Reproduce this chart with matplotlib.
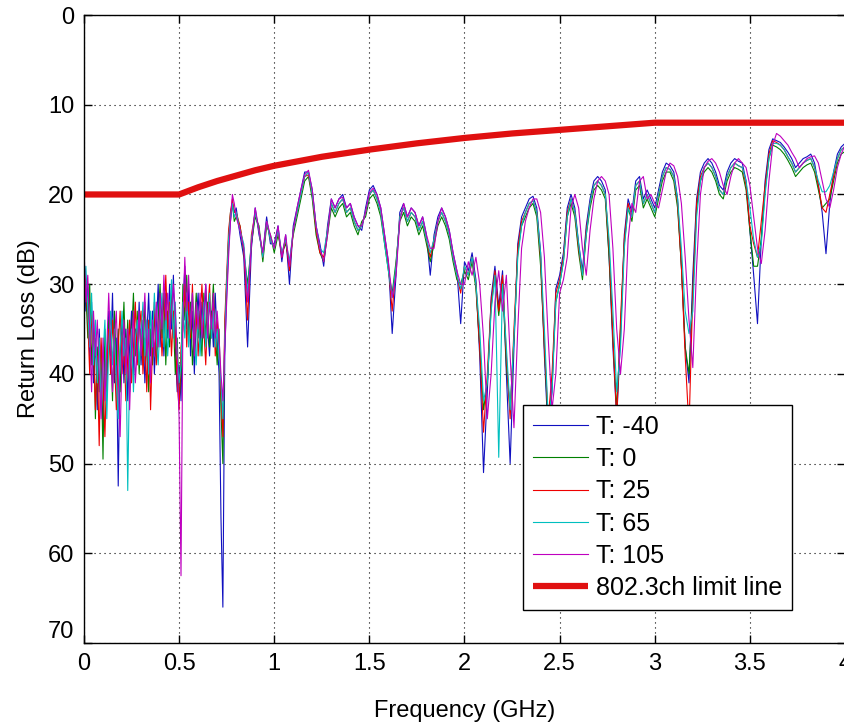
import numpy as np
import matplotlib
matplotlib.use('Agg')
import matplotlib.pyplot as plt

plt.rcParams['font.family'] = ['Liberation Sans', 'DejaVu Sans']

# ~~~~~~~~~~~~ Data ~~~~~~~~~~~~
# frequency grid (GHz): fine below 0.8 GHz, 0.02 GHz steps above
freq = np.concatenate([np.arange(0, 0.795, 0.01), np.arange(0.8, 4.001, 0.02)])

# return loss (dB), 0 - 0.79 GHz
low_m40 = [27, 33, 30, 38, 32, 41, 36, 44, 35, 40,
           46, 37, 42, 33, 38, 31, 41, 36, 52.5, 38,
           34, 41, 35, 43, 37, 33, 40, 35, 38, 32,
           39, 34, 41, 36, 31, 38, 33, 40, 35, 30,
           37, 32, 38, 31, 36, 30, 35, 29, 37, 42,
           39, 43, 33, 28, 35, 30, 38, 33, 40, 34,
           31, 37, 32, 36, 30, 35, 38, 33, 37, 31,
           36, 40, 56, 66, 38, 31, 26, 23, 21, 22]
low_0 = [29, 31, 36, 30, 39, 34, 45, 37, 42, 38,
         49.5, 35, 40, 34, 36, 43, 33, 39, 35, 42,
         37, 32, 39, 34, 42, 36, 31, 38, 33, 40,
         35, 39, 32, 37, 42, 35, 39, 33, 38, 34,
         30, 36, 31, 39, 33, 37, 31, 34, 40, 36,
         43, 40, 30, 34, 29, 36, 32, 39, 35, 31,
         36, 33, 38, 31, 36, 32, 37, 34, 30, 35,
         39, 35, 44, 50, 35, 30, 25, 22, 21, 23]
low_25 = [28, 30, 34, 40, 33, 37, 44, 38, 48, 36,
          41, 47, 39, 35, 40, 34, 38, 44, 37, 33,
          40, 36, 43, 38, 34, 41, 37, 32, 39, 35,
          33, 40, 36, 42, 34, 44, 37, 32, 39, 36,
          33, 38, 34, 29, 35, 32, 38, 33, 35, 41,
          44, 37, 35, 30, 37, 32, 36, 30, 37, 33,
          38, 34, 30, 35, 39, 33, 30, 36, 32, 38,
          34, 37, 42, 47, 34, 29, 24, 22, 20.5, 22]
low_65 = [30, 28, 33, 37, 31, 39, 34, 41, 36, 44,
          38, 34, 45, 37, 33, 39, 35, 41, 45, 37,
          33, 38, 36, 53, 39, 35, 42, 36, 34, 39,
          36, 32, 38, 34, 40, 33, 37, 31, 36, 39,
          34, 31, 37, 33, 38, 34, 29.5, 36, 32, 38,
          41, 39, 32, 36, 31, 37, 34, 31, 36, 39,
          33, 38, 35, 32, 37, 34, 31, 36, 33, 37,
          35, 38, 41, 45, 36, 30, 25, 22.5, 21, 22.5]
low_105 = [26, 32, 29, 35, 42, 33, 38, 34, 40, 45,
           36, 43, 37, 31, 37, 42, 36, 33, 40, 47,
           38, 34, 40, 35, 44, 37, 33, 41, 37, 33,
           38, 35, 31, 38, 35, 41, 34, 38, 32, 37,
           31, 35, 29, 34, 31, 36, 33, 30, 33, 38,
           45, 62.5, 34, 27, 33, 29, 35, 31, 38, 32,
           35, 31, 36, 33, 30, 36, 32, 35, 31, 36,
           33, 36, 40, 43, 37, 32, 27, 23, 20, 21]

# return loss (dB), 0.8 - 4.0 GHz
high_m40 = [21.5, 24.5, 27, 37, 26, 21.5, 24.5, 26.5, 22.5, 25.5,
            25.5, 23.5, 27.5, 24.5, 30, 23.5, 21.5, 19.5, 17.5, 17.5,
            19.5, 23.5, 25.5, 28, 23.5, 20.5, 21.5, 20.5, 20, 21.5,
            21, 22.5, 23.5, 24, 21.5, 19.5, 19, 20, 21.5, 24.5,
            27.5, 35.5, 29, 22, 21, 22.5, 21.5, 22, 23.5, 22.5,
            24.5, 29, 24.5, 22.5, 21.5, 22.5, 24, 26.5, 28.5, 34.4,
            27.5, 28.5, 26.5, 29.5, 38, 51, 42, 31.5, 28, 32.5,
            28.5, 40, 50, 37, 25.5, 22.5, 21.5, 20.5, 20.2, 21.5,
            26.5, 38, 47, 42, 30.5, 29, 26.5, 21.5, 20, 21.5,
            25.5, 28.5, 23.5, 20.5, 18.5, 18, 18.5, 19.5, 27, 37,
            45, 36, 24.5, 20.5, 22, 18.5, 18, 20.5, 19.5, 20.5,
            21.5, 19.5, 17.5, 16.5, 16.8, 17.5, 20.5, 28, 37, 41,
            29, 20.5, 17.5, 16.5, 16, 16.5, 17.5, 19, 19.5, 17.5,
            16.5, 16, 16.3, 16.5, 18.5, 24, 29, 34.4, 25, 18.5,
            15, 13.8, 14, 14.2, 14.7, 15.3, 16, 17, 16.5, 16,
            15.8, 15.5, 16.5, 19, 22, 26.6, 21, 17.5, 15.5, 14.7, 14.3]
high_0 = [22.5, 23.5, 26.5, 30, 25.5, 22.5, 23.5, 27.5, 23.5, 24.5,
          26.5, 24.5, 26.5, 25.5, 27.5, 24.5, 22.5, 20.5, 18.5, 18,
          20.5, 24.5, 26.5, 27.5, 24.5, 21.5, 22.5, 21.5, 21, 22.5,
          22, 23.5, 24.5, 23, 22.5, 20.5, 20, 21, 22.5, 25.5,
          28.5, 31, 27.5, 23, 22, 23.5, 22.5, 23, 24.5, 23.5,
          25.5, 27.5, 25.5, 23.5, 22.5, 23.5, 25, 27.5, 29.5, 30,
          28.5, 29.5, 27.5, 30.5, 37, 44, 41, 32.5, 29, 33.5,
          29.5, 39, 44, 36, 26.5, 23.5, 22.5, 21.5, 21, 22.5,
          28, 37, 46, 41, 32, 30, 27.5, 22.5, 21, 22.5,
          26.5, 29.5, 24.5, 21.5, 19.5, 19, 19.5, 20.5, 27, 36,
          44, 35, 25.5, 21.5, 23, 19.5, 19, 21.5, 20.5, 21.5,
          22.5, 20.5, 18.5, 17.5, 17.5, 18.5, 21.5, 28, 37, 40,
          31, 21.5, 18.5, 17.5, 17, 17.5, 18.5, 20, 20.5, 18.5,
          17.5, 17, 17.2, 17.5, 19.5, 24, 28, 28, 25, 19.5,
          16, 14.5, 14.7, 15, 15.5, 16.2, 17, 18, 17.5, 17,
          16.7, 16.5, 17.5, 19.5, 21.5, 21, 20.5, 18.5, 16.5, 15.5, 15.2]
high_25 = [22, 23.5, 26, 34, 24.5, 22, 24, 27, 23, 25,
           26, 24, 27, 25, 28.5, 24, 22, 20, 18, 17.8,
           20, 24, 26.5, 27, 24, 21, 22, 21, 20.5, 22,
           21.5, 23, 24, 23.5, 22, 20, 19.5, 20.5, 22, 25,
           28, 33, 28, 22.5, 21.5, 23, 22, 22.5, 24, 23,
           25, 27, 25, 23, 22, 23, 24.5, 27, 29, 31,
           28, 29, 27, 30, 37, 46.5, 40, 32, 28.5, 33,
           29, 38, 45, 35, 26, 23, 22, 21, 20.7, 22,
           27, 37, 45, 40, 31, 29.5, 27, 22, 20.5, 22,
           26, 29, 24, 21, 19, 18.5, 19, 20, 26, 36,
           45, 34, 25, 21, 22.5, 19, 18.5, 21, 20, 21,
           22, 20, 18, 17, 17.2, 18, 21, 28, 38, 46,
           31, 21, 18, 17, 16.5, 17, 18, 19.5, 20, 18,
           17, 16.5, 16.8, 17, 19, 23.5, 25.5, 27, 23, 19,
           15.5, 14, 14.2, 14.5, 15, 15.8, 16.5, 17.5, 17, 16.5,
           16.2, 16, 17, 19, 21.5, 22, 20, 18, 16, 15, 14.7]
high_65 = [22, 24, 25.5, 31, 25, 22, 24, 27, 23, 25,
           26, 24, 26.5, 25, 27.5, 24, 22, 20, 18, 17.5,
           20, 23.5, 26, 26.5, 24, 21, 22, 21, 20.5, 22,
           21.5, 23, 24, 23.5, 22, 20, 19.5, 20.5, 22, 25.5,
           28.5, 31.5, 28, 22.5, 21.5, 23, 22, 22.5, 24, 23,
           25, 26.5, 25, 23, 22, 23, 24.5, 27, 29, 30.5,
           28, 29, 27, 30, 35, 43, 41, 33, 29, 49.3,
           30, 37, 44, 36, 27, 23.5, 22, 21, 20.7, 22,
           26.5, 35, 45, 42, 32, 30, 27.5, 22.5, 20.5, 22,
           25.5, 29, 24.5, 21, 19, 18.5, 19, 20, 25, 33,
           42, 37, 26, 21.5, 22.5, 19, 18.5, 21, 20, 21,
           22, 20, 18, 17, 17.2, 18, 20.5, 26, 33, 35.5,
           33, 22.5, 18.5, 17, 16.5, 17, 18, 19.5, 20, 18,
           17, 16.5, 16.8, 17, 18.5, 21.5, 25, 27, 25.5, 20,
           16, 14.3, 14.3, 14.5, 15, 15.8, 16.5, 17.5, 17, 16.5,
           16.2, 16, 17, 18.5, 19.7, 19.7, 19, 17.5, 16, 15, 14.7]
high_105 = [22.5, 24, 26, 32, 25.5, 21.5, 24, 26.5, 23, 24.5,
            26, 23.5, 27, 24.5, 28, 24, 21.5, 19.5, 17.8, 17.3,
            19.5, 23.5, 26, 27.5, 24.5, 20.5, 21.5, 20.5, 20.3, 21.5,
            21, 22.5, 23.5, 23.5, 22, 19.8, 19.3, 20, 21.5, 24.5,
            27.5, 31.5, 29, 23, 21, 22.5, 21.5, 22, 23.5, 22.5,
            24.5, 26, 26, 23, 21.5, 22.5, 24, 26.5, 28.5, 30,
            30, 27.5, 29, 27, 30, 36, 45, 40, 32, 28.5,
            33, 29, 38, 46, 35, 26, 23, 21.5, 20.5, 20.5,
            22, 27, 36, 44, 40, 31, 29.5, 27, 21.5, 20,
            21.5, 26, 29, 24, 20.5, 18.5, 18, 18.5, 20, 26,
            35, 40, 35, 25, 21, 22, 18.5, 18, 20.5, 20,
            21, 21.5, 19.5, 17.5, 16.5, 16.8, 18, 21, 27, 34,
            39.3, 28, 20, 17, 16.3, 16, 16.5, 17.5, 19, 20,
            18, 16.5, 16, 16.5, 17, 19, 22.5, 26, 27.7, 24,
            18.5, 14.5, 13.2, 13.5, 14, 14.5, 15.3, 16, 17, 16.5,
            16, 15.8, 15.7, 16.5, 18.5, 20.5, 21.5, 19.5, 17, 15.5, 14.5]

series_labels = ['T: -40', 'T: 0', 'T: 25', 'T: 65', 'T: 105']
series_low = [low_m40, low_0, low_25, low_65, low_105]
series_high = [high_m40, high_0, high_25, high_65, high_105]
series_colors = ['#1010c0', '#008000', '#ee0000', '#00bfbf', '#bf00bf']

# 802.3ch limit line
limit_freq = [0, 0.5, 0.6, 0.7, 0.8, 0.9, 1.0, 1.25, 1.5, 1.75, 2.0, 2.25, 2.5, 2.75, 3.0, 4.0]
limit_db = [20, 20, 19.2, 18.5, 17.9, 17.3, 16.8, 15.8, 15.0, 14.3, 13.7, 13.2, 12.8, 12.4, 12.0, 12.0]

xtick_vals = [0, 0.5, 1, 1.5, 2, 2.5, 3, 3.5, 4]
xtick_labels = ['0', '0.5', '1', '1.5', '2', '2.5', '3', '3.5', '4']
ytick_vals = [0, 10, 20, 30, 40, 50, 60, 70]

# --- Plot ---
fig = plt.figure(figsize=(8.44, 7.27), dpi=100)
ax = fig.add_axes([0.0995, 0.1155, 0.9017, 0.8638])

for lab, lo, hi, col in zip(series_labels, series_low, series_high, series_colors):
    ax.plot(freq, np.concatenate([lo, hi]), color=col, lw=0.8, label=lab)
ax.plot(limit_freq, limit_db, color='#e01010', lw=4.5, label='802.3ch limit line',
        solid_capstyle='butt')

ax.set_xlim(0, 4)
ax.set_ylim(70, 0)
ax.set_xticks(xtick_vals)
ax.set_xticklabels(xtick_labels)
ax.set_yticks(ytick_vals)
ax.tick_params(direction='in', top=True, right=True, labelsize=17, length=6, width=1, pad=7)
# MATLAB lifts the bottom y label so it clears the x "0"
ax.get_yticklabels()[-1].set_verticalalignment('bottom')
ax.grid(True, color='black', linestyle=(0, (1, 3.5)), lw=0.8)
for s in ax.spines.values():
    s.set_linewidth(1)

ax.set_xlabel('Frequency (GHz)', fontsize=17, labelpad=18)
ax.set_ylabel('Return Loss (dB)', fontsize=17, labelpad=6)

leg = ax.legend(loc='lower left', bbox_to_anchor=(0.577, 0.0525), borderaxespad=0,
                fontsize=18, fancybox=False, framealpha=1, edgecolor='black',
                handlelength=2.2, handletextpad=0.3, labelspacing=0.33,
                borderpad=0.4)
leg.get_frame().set_linewidth(1)

fig.savefig('out.png', dpi=100)
